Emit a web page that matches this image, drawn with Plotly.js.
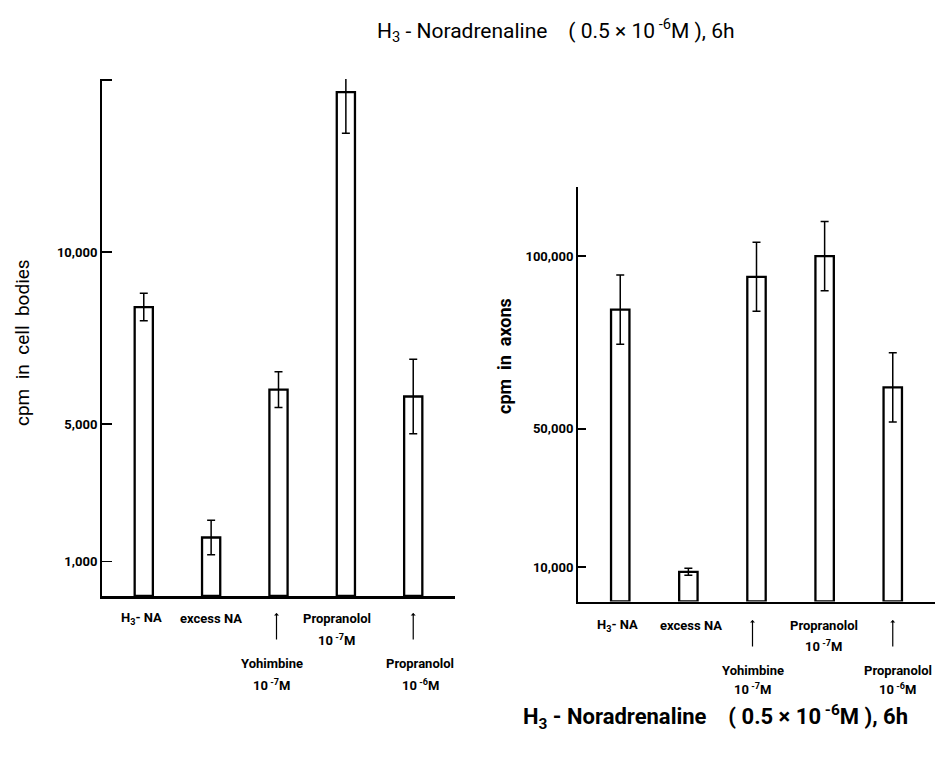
<!DOCTYPE html>
<html>
<head>
<meta charset="utf-8">
<script src="https://cdn.plot.ly/plotly-3.0.1.min.js"></script>
<style>html,body{margin:0;padding:0;background:#fff;}#chart{width:935px;height:758px;}</style>
</head>
<body>
<div id="chart"></div>
<script>
// ---- data ----
const categories = ["H3-NA", "excess NA", "Yohimbine 1e-7M", "Propranolol 1e-7M", "Propranolol 1e-6M"];
const cellBodies = [8400, 1700, 6000, 14650, 5800];
const cellBodiesErr = [400, 500, 520, 1200, 1080];
const axons = [84500, 8600, 94000, 100000, 62000];
const axonsErr = [10000, 1000, 10000, 10000, 10000];
const cellTickVals = [1000, 5000, 10000, 15000];
const cellTickText = ["1,000", "5,000", "10,000", ""];
const axonTickVals = [10000, 50000, 100000];
const axonTickText = ["10,000", "50,000", "100,000"];
const labelLine1 = ["H<sub>3</sub>- NA", "excess NA", "Yohimbine", "Propranolol", "Propranolol"];
const labelLine2 = ["", "", "10<sup> -7</sup>M", "10<sup> -7</sup>M", "10<sup> -6</sup>M"];
const lowered = [false, false, true, false, true];
const titleText = "H<sub>3</sub> - Noradrenaline    ( 0.5 × 10<sup> -6</sup>M ), 6h";
const yTitleLeft = "cpm  in  cell  bodies";
const yTitleRight = "cpm  in  axons";

// ---- layout helpers ----
const W = 935, H = 758;
const px = v => v / W;
const py = v => 1 - v / H;
const FONT = "Roboto, 'Liberation Sans', sans-serif";

const barStyle = {color: "#ffffff", line: {color: "#000", width: 2.3}};
const errStyle = {color: "#000", thickness: 1.5, width: 4};

const traces = [
  {type: "bar", x: categories, y: cellBodies, xaxis: "x", yaxis: "y", cliponaxis: false,
   marker: barStyle, width: 0.27,
   error_y: Object.assign({type: "data", array: cellBodiesErr, visible: true}, errStyle)},
  {type: "bar", x: categories, y: axons, xaxis: "x2", yaxis: "y2", cliponaxis: false,
   marker: barStyle, width: 0.27,
   error_y: Object.assign({type: "data", array: axonsErr, visible: true}, errStyle)}
];

const labelFont = {family: FONT, size: 13, color: "#000", weight: "bold"};
const annotations = [];
function addLabels(xref, rows, arrowTop, xs) {
  categories.forEach((c, i) => {
    const r = lowered[i] ? rows.low : rows.up;
    annotations.push({xref, yref: "paper", x: c, y: py(r[0]), xshift: xs.lab[i], xanchor: "center", yanchor: "middle",
      text: labelLine1[i], showarrow: false, font: labelFont});
    if (labelLine2[i]) annotations.push({xref, yref: "paper", x: c, y: py(r[1]), xshift: xs.lab[i], xanchor: "center", yanchor: "middle",
      text: labelLine2[i], showarrow: false, font: labelFont});
    if (lowered[i]) annotations.push({xref, yref: "paper", x: c, y: py(arrowTop), xshift: xs.arr[i],
      text: "", showarrow: true, ax: 0, ay: 28, arrowhead: 1, arrowsize: 0.7, arrowwidth: 1.2, arrowcolor: "#000"});
  });
}
addLabels("x", {up: [618, 640], low: [663, 685]}, 613, {lab: [-2, 0, -7, -9, 7], arr: [0, 0, -2, 0, 0]});
addLabels("x2", {up: [625, 646], low: [670, 689]}, 620, {lab: [-3, 3, -4, -1, 5], arr: [0, 0, -4, 0, 0]});

annotations.push({xref: "paper", yref: "paper", x: px(556), y: py(31), xanchor: "center", yanchor: "middle",
  text: titleText, showarrow: false, font: {family: FONT, size: 21, color: "#000"}});
annotations.push({xref: "paper", yref: "paper", x: px(715), y: py(717), xanchor: "center", yanchor: "middle",
  text: titleText, showarrow: false, font: {family: FONT, size: 22, color: "#000", weight: "bold"}});
annotations.push({xref: "paper", yref: "paper", x: px(22), y: py(343), xanchor: "center", yanchor: "middle",
  text: yTitleLeft, textangle: -90, showarrow: false, font: {family: FONT, size: 19, color: "#000"}});
annotations.push({xref: "paper", yref: "paper", x: px(505), y: py(356), xanchor: "center", yanchor: "middle",
  text: yTitleRight, textangle: -90, showarrow: false, font: {family: FONT, size: 18, color: "#000", weight: "bold"}});

const baseX = {type: "category", range: [-0.62, 4.62], showticklabels: false, ticks: "",
  showline: true, linecolor: "#000", linewidth: 2.5, showgrid: false, zeroline: false, fixedrange: true};
const baseY = {showline: true, linecolor: "#000", linewidth: 2, showgrid: false, zeroline: false,
  ticks: "inside", ticklen: 8, tickwidth: 1.5, tickcolor: "#000", tickmode: "array",
  tickfont: {family: FONT, size: 13, color: "#000", weight: "bold"}};

const layout = {
  width: W, height: H, margin: {l: 0, r: 0, t: 0, b: 0},
  paper_bgcolor: "#fff", plot_bgcolor: "#fff", showlegend: false, bargap: 0,
  xaxis: Object.assign({}, baseX, {domain: [px(102), px(455)], anchor: "y"}),
  yaxis: Object.assign({}, baseY, {domain: [py(596), py(79)], range: [0, 15030], anchor: "x",
    tickvals: cellTickVals, ticktext: cellTickText, ticklen: 10}),
  xaxis2: Object.assign({}, baseX, {domain: [px(578), 1], anchor: "y2"}),
  yaxis2: Object.assign({}, baseY, {domain: [py(601.5), py(187)], range: [0, 120000], anchor: "x2",
    tickvals: axonTickVals, ticktext: axonTickText}),
  annotations
};

Plotly.newPlot("chart", traces, layout, {displayModeBar: false, staticPlot: true});
</script>
</body>
</html>
